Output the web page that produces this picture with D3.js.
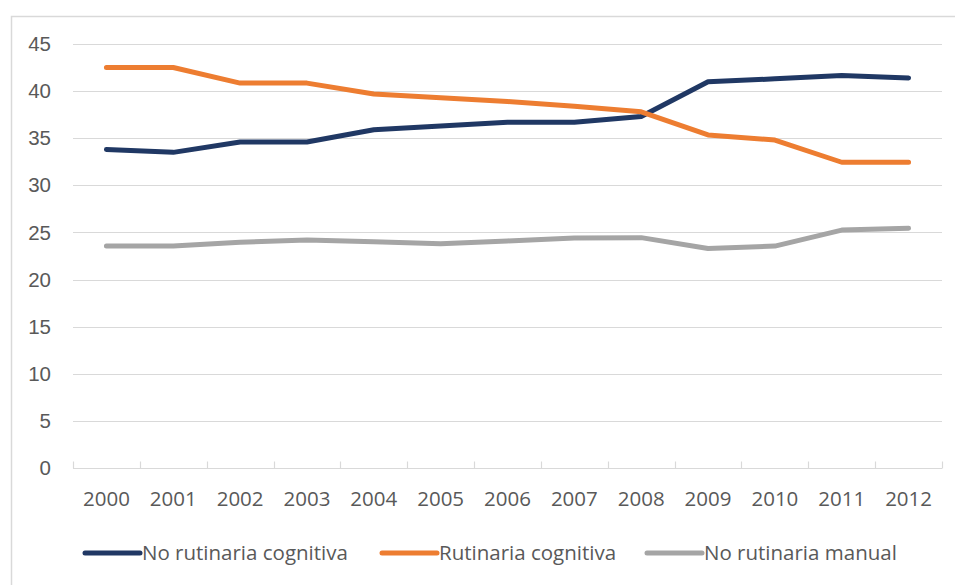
<!DOCTYPE html>
<html>
<head>
<meta charset="utf-8">
<script src="https://cdn.jsdelivr.net/npm/d3@7"></script>
<style>
  body { margin: 0; background: #fff; }
  svg { display: block; font-family: "Open Sans", "Noto Sans", sans-serif; }
</style>
</head>
<body>
<div id="chart"></div>
<script>
const years = ['2000', '2001', '2002', '2003', '2004', '2005', '2006', '2007', '2008', '2009', '2010', '2011', '2012'];
const noRutCognitiva = [33.8, 33.5, 34.6, 34.6, 35.9, 36.3, 36.7, 36.7, 37.3, 41.0, 41.3, 41.65, 41.4];
const rutCognitiva = [42.5, 42.5, 40.85, 40.85, 39.7, 39.3, 38.9, 38.4, 37.8, 35.35, 34.8, 32.45, 32.45];
const noRutManual = [23.55, 23.55, 23.95, 24.2, 24.0, 23.8, 24.1, 24.4, 24.45, 23.3, 23.55, 25.25, 25.45];
const yTicks = [0, 5, 10, 15, 20, 25, 30, 35, 40, 45];
const seriesNames = ['No rutinaria cognitiva', 'Rutinaria cognitiva', 'No rutinaria manual'];
const seriesColors = ['#203864', '#ed7d31', '#a5a5a5'];

const series = [noRutCognitiva, rutCognitiva, noRutManual].map((vals, i) => ({
	name: seriesNames[i],
	color: seriesColors[i],
	values: vals
}));

const svgWidth = 955, svgHeight = 585;
const padding = { left: 73, right: 13, top: 44, bottom: 117 };
const fontSize = '20.5px';

const svg = d3.select('#chart').append('svg')
	.attr('width', svgWidth)
	.attr('height', svgHeight);

// chart frame
svg.append('rect')
	.attr('x', 11.5)
	.attr('y', 16.5)
	.attr('width', svgWidth)
	.attr('height', svgHeight)
	.attr('fill', 'none')
	.attr('stroke', '#d9d9d9')
	.attr('stroke-width', 1.5);

const x = d3.scaleBand()
	.domain(years)
	.range([padding.left, svgWidth - padding.right]);

const y = d3.scaleLinear()
	.domain([0, 45])
	.range([svgHeight - padding.bottom, padding.top]);

// gridlines
svg.append('g')
	.classed('grid', true)
	.selectAll('line')
	.data(yTicks.filter(d => d > 0))
	.enter()
	.append('line')
	.attr('x1', padding.left)
	.attr('x2', svgWidth - padding.right)
	.attr('y1', d => Math.round(y(d)) + 0.5)
	.attr('y2', d => Math.round(y(d)) + 0.5)
	.attr('stroke', '#d9d9d9')
	.attr('stroke-width', 1.2);

// y axis labels
let axis_y = d3.axisLeft(y)
	.tickValues(yTicks)
	.tickSize(0)
	.tickPadding(22)
	.tickFormat(d => d);

svg.append('g')
	.classed('y-axis', true)
	.attr('transform', `translate(${padding.left}, 0)`)
	.call(axis_y)
	.call(g => g.select('.domain').remove())
	.selectAll('text')
	.attr('fill', '#595959')
	.style('font-size', fontSize);

// x axis
const baseY = Math.round(y(0)) + 0.5;
svg.append('line')
	.attr('x1', padding.left)
	.attr('x2', svgWidth - padding.right)
	.attr('y1', baseY)
	.attr('y2', baseY)
	.attr('stroke', '#d9d9d9')
	.attr('stroke-width', 1.2);

const tickPos = years.map(d => x(d)).concat([x(years[years.length - 1]) + x.bandwidth()]);
svg.append('g')
	.selectAll('line')
	.data(tickPos)
	.enter()
	.append('line')
	.attr('x1', d => Math.round(d) + 0.5)
	.attr('x2', d => Math.round(d) + 0.5)
	.attr('y1', baseY)
	.attr('y2', baseY - 7)
	.attr('stroke', '#d9d9d9')
	.attr('stroke-width', 1.2);

svg.append('g')
	.classed('x-labels', true)
	.selectAll('text')
	.data(years)
	.enter()
	.append('text')
	.attr('x', d => x(d) + x.bandwidth() / 2)
	.attr('y', 506)
	.attr('text-anchor', 'middle')
	.attr('fill', '#595959')
	.style('font-size', fontSize)
	.text(d => d);

// lines
const line = d3.line()
	.x((d, i) => x(years[i]) + x.bandwidth() / 2)
	.y(d => y(d));

svg.append('g')
	.classed('lines', true)
	.selectAll('path')
	.data(series)
	.enter()
	.append('path')
	.attr('d', d => line(d.values))
	.attr('fill', 'none')
	.attr('stroke', d => d.color)
	.attr('stroke-width', 5)
	.attr('stroke-linejoin', 'round')
	.attr('stroke-linecap', 'round');

// legend
const legendX = [85, 382, 647];
const legend = svg.selectAll('.legend')
	.data(series)
	.enter()
	.append('g')
	.attr('class', 'legend')
	.attr('transform', (d, i) => `translate(${legendX[i]}, 553)`);

legend.append('line')
	.attr('x1', 0)
	.attr('x2', 55)
	.attr('y1', 0)
	.attr('y2', 0)
	.attr('stroke', d => d.color)
	.attr('stroke-width', 5)
	.attr('stroke-linecap', 'round');

legend.append('text')
	.attr('x', 57)
	.attr('y', 7)
	.attr('fill', '#595959')
	.style('font-size', fontSize)
	.text(d => d.name);
</script>
</body>
</html>
